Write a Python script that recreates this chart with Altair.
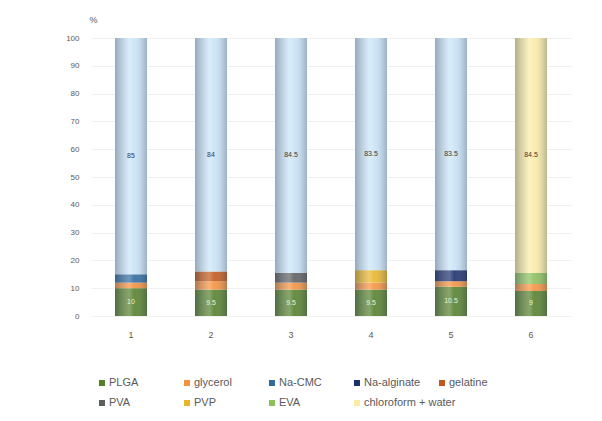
import altair as alt
import pandas as pd

samples = ["1", "2", "3", "4", "5", "6"]
plga = [10, 9.5, 9.5, 9.5, 10.5, 9]
glycerol = [2, 3, 2.5, 2.5, 2, 2.5]
additive_names = ["Na-CMC", "gelatine", "PVA", "PVP", "Na-alginate", "EVA"]
additive = [3, 3.5, 3.5, 4.5, 4, 4]
solvent_names = ["water", "water", "water", "water", "water", "chloroform + water"]
solvent = [85, 84, 84.5, 83.5, 83.5, 84.5]
y_ticks = [0, 10, 20, 30, 40, 50, 60, 70, 80, 90, 100]

legend_names = ["PLGA", "glycerol", "Na-CMC", "Na-alginate", "gelatine",
                "PVA", "PVP", "EVA", "chloroform + water"]
legend_colors = ["#55802b", "#f5923e", "#2f6a9e", "#1c2f6b", "#c2571a",
                 "#5e5e5e", "#e8b52a", "#8cbf5a", "#fbeca5"]
all_names = legend_names + ["water"]
all_colors = legend_colors + ["#c9e4f7"]

rows = []
for i, s in enumerate(samples):
    parts = [("PLGA", plga[i], True), ("glycerol", glycerol[i], False),
             (additive_names[i], additive[i], False), (solvent_names[i], solvent[i], True)]
    start = 0.0
    for k, (name, val, lab) in enumerate(parts):
        rows.append({"sample": s, "component": name, "value": val, "order": k,
                     "mid": start + val / 2, "label": f"{val:g}" if lab else "",
                     "tone": "light" if k == 0 else "dark"})
        start += val
df = pd.DataFrame(rows)

xenc = alt.X("sample:N", sort=samples, title=None,
             scale=alt.Scale(paddingInner=0.6, paddingOuter=0.3),
             axis=alt.Axis(labelAngle=0, labelPadding=14, ticks=False, domain=False,
                           labelFontSize=9, labelColor="#595959", labelFont="Liberation Sans"))
yscale = alt.Scale(domain=[0, 100], nice=False)
yaxis = alt.Axis(values=y_ticks, ticks=False, domain=False,
                 grid=True, gridColor="#f0f0f0", labelFontSize=8,
                 labelOverlap=False, labelFlush=False,
                 labelColor="#595959", labelPadding=12, labelFont="Liberation Sans",
                 titleAngle=0, titleAlign="left", titleX=-2, titleY=-14,
                 titleFontSize=9, titleFontWeight="normal", titleColor="#595959")

bars = alt.Chart(df).mark_bar().encode(
    x=xenc,
    y=alt.Y("value:Q", stack="zero", scale=yscale, title="%", axis=yaxis),
    color=alt.Color("component:N", scale=alt.Scale(domain=all_names, range=all_colors),
                    legend=None),
    order=alt.Order("order:Q"),
)

shade = alt.Chart(df).mark_bar(
    fill=alt.Gradient(
        gradient="linear", x1=0, x2=1, y1=0, y2=0,
        stops=[alt.GradientStop(color="rgba(70,80,100,0.40)", offset=0),
               alt.GradientStop(color="rgba(255,255,255,0.30)", offset=0.45),
               alt.GradientStop(color="rgba(255,255,255,0.10)", offset=0.6),
               alt.GradientStop(color="rgba(70,80,100,0.35)", offset=1)])
).encode(x=xenc, y=alt.Y("sum(value):Q", scale=yscale, title="%", axis=yaxis))

labels = alt.Chart(df).mark_text(fontSize=7, font="Liberation Sans").encode(
    x=xenc, y=alt.Y("mid:Q", scale=yscale, title="%", axis=yaxis), text="label:N",
    color=alt.Color("tone:N", scale=alt.Scale(domain=["light", "dark"],
                                               range=["#e8f0dc", "#3a3a3a"]), legend=None),
)

main = alt.layer(bars, shade, labels).resolve_scale(color="independent").properties(
    width=480, height=278)

leg_df = pd.DataFrame({"name": legend_names, "color": legend_colors,
                       "col": [i % 5 for i in range(len(legend_names))],
                       "row": [i // 5 for i in range(len(legend_names))]})
lx = alt.X("col:Q", scale=alt.Scale(domain=[-0.129, 5.518]), axis=None)
ly = alt.Y("row:Q", scale=alt.Scale(domain=[-0.5, 1.5], reverse=True), axis=None)
leg_pts = alt.Chart(leg_df).mark_square(size=36, opacity=1).encode(
    x=lx, y=ly, color=alt.Color("color:N", scale=None))
leg_txt = alt.Chart(leg_df).mark_text(align="left", dx=7, fontSize=11,
                                      font="Liberation Sans", color="#595959").encode(
    x=lx, y=ly, text="name:N")
legend = alt.layer(leg_pts, leg_txt).properties(width=480, height=40)

chart = alt.vconcat(main, legend, spacing=57, bounds="flush").properties(
    padding={"left": 65, "top": 15, "right": 10, "bottom": 5},
    background="white",
).configure_view(stroke=None).configure_axisY(labelOverlap=False)

chart.save("out.html", embed_options={"renderer": "svg", "actions": False})
